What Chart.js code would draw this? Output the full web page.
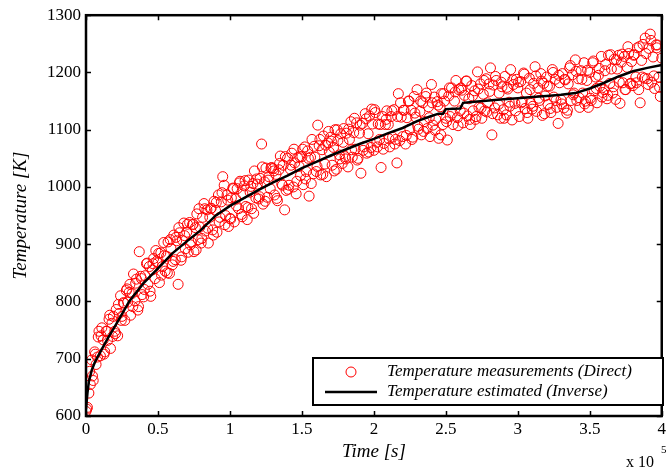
<!DOCTYPE html>
<html>
<head>
<meta charset="utf-8">
<script src="https://cdn.jsdelivr.net/npm/chart.js@4.4.0/dist/chart.umd.min.js"></script>
<style>
  html, body { margin: 0; padding: 0; background: #fff; }
</style>
</head>
<body>
<canvas id="tempChart" width="669" height="473"></canvas>
<script>
// Axis ticks (time in units of 1e5 s)
const xTicks = [0, 0.5, 1, 1.5, 2, 2.5, 3, 3.5, 4];
const yTicks = [600, 700, 800, 900, 1000, 1100, 1200, 1300];

const measTime = [
  0.00,0.01,0.02,0.03,0.04,0.05,0.06,0.07,0.08,0.09,
  0.10,0.11,0.12,0.13,0.14,0.15,0.16,0.17,0.18,0.19,
  0.20,0.21,0.22,0.23,0.24,0.25,0.26,0.27,0.28,0.29,
  0.30,0.31,0.32,0.33,0.34,0.35,0.36,0.37,0.38,0.39,
  0.40,0.41,0.42,0.43,0.44,0.45,0.46,0.47,0.48,0.49,
  0.50,0.51,0.52,0.53,0.54,0.55,0.56,0.57,0.58,0.59,
  0.60,0.61,0.62,0.63,0.64,0.65,0.66,0.67,0.68,0.69,
  0.70,0.71,0.72,0.73,0.74,0.75,0.76,0.77,0.78,0.79,
  0.80,0.81,0.82,0.83,0.84,0.85,0.86,0.87,0.88,0.89,
  0.90,0.91,0.92,0.93,0.94,0.95,0.96,0.97,0.98,0.99,
  1.00,1.01,1.02,1.03,1.04,1.05,1.06,1.07,1.08,1.09,
  1.10,1.11,1.12,1.13,1.14,1.15,1.16,1.17,1.18,1.19,
  1.20,1.21,1.22,1.23,1.24,1.25,1.26,1.27,1.28,1.29,
  1.30,1.31,1.32,1.33,1.34,1.35,1.36,1.37,1.38,1.39,
  1.40,1.41,1.42,1.43,1.44,1.45,1.46,1.47,1.48,1.49,
  1.50,1.51,1.52,1.53,1.54,1.55,1.56,1.57,1.58,1.59,
  1.60,1.61,1.62,1.63,1.64,1.65,1.66,1.67,1.68,1.69,
  1.70,1.71,1.72,1.73,1.74,1.75,1.76,1.77,1.78,1.79,
  1.80,1.81,1.82,1.83,1.84,1.85,1.86,1.87,1.88,1.89,
  1.90,1.91,1.92,1.93,1.94,1.95,1.96,1.97,1.98,1.99,
  2.00,2.01,2.02,2.03,2.04,2.05,2.06,2.07,2.08,2.09,
  2.10,2.11,2.12,2.13,2.14,2.15,2.16,2.17,2.18,2.19,
  2.20,2.21,2.22,2.23,2.24,2.25,2.26,2.27,2.28,2.29,
  2.30,2.31,2.32,2.33,2.34,2.35,2.36,2.37,2.38,2.39,
  2.40,2.41,2.42,2.43,2.44,2.45,2.46,2.47,2.48,2.49,
  2.50,2.51,2.52,2.53,2.54,2.55,2.56,2.57,2.58,2.59,
  2.60,2.61,2.62,2.63,2.64,2.65,2.66,2.67,2.68,2.69,
  2.70,2.71,2.72,2.73,2.74,2.75,2.76,2.77,2.78,2.79,
  2.80,2.81,2.82,2.83,2.84,2.85,2.86,2.87,2.88,2.89,
  2.90,2.91,2.92,2.93,2.94,2.95,2.96,2.97,2.98,2.99,
  3.00,3.01,3.02,3.03,3.04,3.05,3.06,3.07,3.08,3.09,
  3.10,3.11,3.12,3.13,3.14,3.15,3.16,3.17,3.18,3.19,
  3.20,3.21,3.22,3.23,3.24,3.25,3.26,3.27,3.28,3.29,
  3.30,3.31,3.32,3.33,3.34,3.35,3.36,3.37,3.38,3.39,
  3.40,3.41,3.42,3.43,3.44,3.45,3.46,3.47,3.48,3.49,
  3.50,3.51,3.52,3.53,3.54,3.55,3.56,3.57,3.58,3.59,
  3.60,3.61,3.62,3.63,3.64,3.65,3.66,3.67,3.68,3.69,
  3.70,3.71,3.72,3.73,3.74,3.75,3.76,3.77,3.78,3.79,
  3.80,3.81,3.82,3.83,3.84,3.85,3.86,3.87,3.88,3.89,
  3.90,3.91,3.92,3.93,3.94,3.95,3.96,3.97,3.98,3.99,
  4.00
];
const measTemp = [
  608,615,640,655,698,662,712,690,703,748,
  705,754,733,712,748,732,769,718,762,774,
  748,786,740,779,810,774,798,767,819,799,
  816,776,814,848,801,839,785,887,844,812,
  808,845,866,830,861,809,855,875,840,870,
  868,833,885,861,903,853,879,904,849,893,
  864,916,873,906,830,920,872,907,937,892,
  921,886,938,904,934,887,929,953,908,930,
  902,947,971,923,960,902,947,963,925,975,
  959,921,986,947,974,1018,1003,950,986,931,
  945,981,998,939,979,997,962,1010,952,988,
  1002,966,943,1012,991,962,1006,1028,981,1005,
  979,1015,1075,970,1009,1033,982,1018,997,1034,
  1032,986,1022,976,1030,1054,1005,1038,960,994,
  1050,1003,1031,1059,1000,1042,988,1051,1036,1020,
  1053,1004,1070,1027,1063,984,1052,1083,1023,1052,
  1027,1108,1072,1021,1065,1089,1040,1018,1077,1061,
  1087,1038,1069,1100,1031,1081,1056,1093,1041,1102,
  1053,1094,1035,1083,1114,1052,1095,1066,1112,1050,
  1094,1024,1111,1070,1128,1059,1093,1124,1069,1110,
  1064,1130,1078,1110,1083,1034,1123,1076,1109,1133,
  1109,1070,1123,1087,1135,1083,1042,1163,1081,1122,
  1088,1134,1075,1121,1150,1101,1134,1087,1158,1122,
  1170,1101,1132,1091,1147,1114,1158,1102,1140,1088,
  1179,1108,1157,1118,1149,1085,1140,1163,1109,1150,
  1120,1082,1159,1123,1173,1109,1150,1186,1121,1170,
  1133,1169,1112,1160,1185,1124,1154,1109,1177,1133,
  1168,1123,1201,1139,1180,1120,1162,1133,1189,1147,
  1180,1208,1091,1178,1138,1186,1126,1164,1120,1175,
  1135,1193,1126,1171,1148,1205,1117,1179,1146,1188,
  1173,1123,1184,1149,1199,1137,1164,1120,1190,1146,
  1136,1181,1210,1132,1173,1151,1198,1125,1181,1159,
  1192,1144,1176,1130,1205,1157,1188,1139,1111,1182,
  1152,1198,1138,1187,1129,1180,1208,1151,1196,1164,
  1222,1151,1189,1139,1203,1164,1217,1150,1186,1139,
  1200,1151,1217,1168,1192,1147,1195,1176,1228,1165,
  1170,1214,1154,1230,1181,1206,1164,1223,1153,1206,
  1230,1146,1218,1182,1228,1170,1209,1233,1180,1219,
  1177,1231,1192,1243,1170,1147,1221,1249,1190,1233,
  1189,1242,1267,1183,1227,1172,1248,1248,1192,1158,
  1225
];

// More measurements between the ones above
const measTimeB = [
  0.005,0.025,0.045,0.065,0.085,0.105,0.125,0.145,0.165,0.185,
  0.205,0.225,0.245,0.265,0.285,0.305,0.325,0.345,0.365,0.385,
  0.405,0.425,0.445,0.465,0.485,0.505,0.525,0.545,0.565,0.585,
  0.605,0.625,0.645,0.665,0.685,0.705,0.725,0.745,0.765,0.785,
  0.805,0.825,0.845,0.865,0.885,0.905,0.925,0.945,0.965,0.985,
  1.005,1.025,1.045,1.065,1.085,1.105,1.125,1.145,1.165,1.185,
  1.205,1.225,1.245,1.265,1.285,1.305,1.325,1.345,1.365,1.385,
  1.405,1.425,1.445,1.465,1.485,1.505,1.525,1.545,1.565,1.585,
  1.605,1.625,1.645,1.665,1.685,1.705,1.725,1.745,1.765,1.785,
  1.805,1.825,1.845,1.865,1.885,1.905,1.925,1.945,1.965,1.985,
  2.005,2.025,2.045,2.065,2.085,2.105,2.125,2.145,2.165,2.185,
  2.205,2.225,2.245,2.265,2.285,2.305,2.325,2.345,2.365,2.385,
  2.405,2.425,2.445,2.465,2.485,2.505,2.525,2.545,2.565,2.585,
  2.605,2.625,2.645,2.665,2.685,2.705,2.725,2.745,2.765,2.785,
  2.805,2.825,2.845,2.865,2.885,2.905,2.925,2.945,2.965,2.985,
  3.005,3.025,3.045,3.065,3.085,3.105,3.125,3.145,3.165,3.185,
  3.205,3.225,3.245,3.265,3.285,3.305,3.325,3.345,3.365,3.385,
  3.405,3.425,3.445,3.465,3.485,3.505,3.525,3.545,3.565,3.585,
  3.605,3.625,3.645,3.665,3.685,3.705,3.725,3.745,3.765,3.785,
  3.805,3.825,3.845,3.865,3.885,3.905,3.925,3.945,3.965,3.985
];
const measTempB = [
  612,678,670,708,738,740,708,748,776,739,
  744,795,767,797,822,830,791,832,791,840,
  821,867,818,866,889,884,846,880,850,908,
  870,912,929,878,915,935,899,935,890,962,
  910,962,928,962,916,973,939,990,934,977,
  944,997,967,1007,948,1011,964,1001,954,1014,
  983,1035,975,1012,1033,1028,980,1041,1003,1053,
  996,1038,1066,1010,1053,1066,1014,1050,1006,1071,
  1036,1083,1022,1073,1097,1080,1028,1100,1049,1078,
  1049,1101,1065,1120,1047,1108,1064,1119,1061,1136,
  1135,1070,1109,1066,1118,1084,1133,1075,1123,1147,
  1134,1090,1150,1083,1129,1106,1150,1097,1164,1121,
  1147,1099,1143,1091,1163,1114,1173,1129,1166,1107,
  1173,1129,1185,1118,1159,1118,1171,1138,1186,1131,
  1167,1128,1193,1144,1183,1120,1174,1141,1187,1133,
  1183,1147,1197,1130,1170,1141,1194,1155,1185,1128,
  1176,1137,1200,1151,1195,1145,1188,1134,1212,1161,
  1202,1156,1188,1145,1204,1155,1220,1172,1207,1157,
  1203,1160,1231,1175,1222,1183,1232,1170,1245,1181,
  1230,1182,1245,1192,1260,1179,1256,1194,1243,1174
];

// Estimated temperature (Inverse)
const estTime = [0, 0.01, 0.02, 0.04, 0.06, 0.08, 0.1, 0.15, 0.2, 0.3, 0.4, 0.5, 0.6, 0.7, 0.8, 0.9,
  1.0, 1.1, 1.2, 1.3, 1.4, 1.5, 1.6, 1.7, 1.8, 1.9, 2.0, 2.1, 2.2, 2.3, 2.4, 2.45, 2.48, 2.5,
  2.6, 2.62, 2.7, 2.8, 2.9, 3.0, 3.1, 3.2, 3.3, 3.4, 3.5, 3.6, 3.7, 3.8, 3.9, 4.0];
const estTemp = [612, 640, 660, 680, 693, 703, 712, 735, 756, 800, 832, 858, 884, 905, 925, 950,
  967, 981, 995, 1008, 1020, 1033, 1044, 1055, 1065, 1075, 1084, 1094, 1103, 1115, 1124, 1128, 1128, 1136,
  1137, 1147, 1149, 1151, 1153, 1155, 1157, 1159, 1161, 1164, 1172, 1182, 1193, 1202, 1208, 1213];

const SERIF = '"Liberation Serif", "Times New Roman", serif';

const framePlugin = {
    id: 'framePlugin',
    afterDraw(chart) {
        const ctx = chart.ctx;
        const a = chart.chartArea;
        const xs = chart.scales.x, ys = chart.scales.y;
        ctx.save();
        ctx.strokeStyle = '#000';
        // inward tick marks on all four sides
        ctx.lineWidth = 1.5;
        ctx.beginPath();
        xTicks.forEach(v => {
            const px = Math.round(xs.getPixelForValue(v)) + 0.5;
            ctx.moveTo(px, a.bottom); ctx.lineTo(px, a.bottom - 5);
            ctx.moveTo(px, a.top); ctx.lineTo(px, a.top + 5);
        });
        yTicks.forEach(v => {
            const py = Math.round(ys.getPixelForValue(v)) + 0.5;
            ctx.moveTo(a.left, py); ctx.lineTo(a.left + 5, py);
            ctx.moveTo(a.right, py); ctx.lineTo(a.right - 5, py);
        });
        ctx.stroke();
        // frame
        ctx.lineWidth = 2.5;
        ctx.strokeRect(a.left, a.top, a.right - a.left, a.bottom - a.top);

        // axis titles
        ctx.fillStyle = '#000';
        ctx.textAlign = 'center';
        ctx.textBaseline = 'middle';
        ctx.font = 'italic 19px ' + SERIF;
        ctx.fillText('Time [s]', (a.left + a.right) / 2, 452);
        ctx.save();
        ctx.translate(21, (a.top + a.bottom) / 2);
        ctx.rotate(-Math.PI / 2);
        ctx.fillText('Temperature [K]', 0, 0);
        ctx.restore();

        // exponent
        ctx.textAlign = 'left';
        ctx.font = '16px ' + SERIF;
        ctx.fillText('x 10', 626, 463);
        ctx.font = '11px ' + SERIF;
        ctx.fillText('5', 661, 450);

        // legend
        const ds = chart.data.datasets;
        ctx.fillStyle = '#fff';
        ctx.fillRect(313, 358, 350, 47);
        ctx.lineWidth = 2;
        ctx.strokeRect(313, 358, 350, 47);
        ctx.strokeStyle = 'red';
        ctx.lineWidth = 1;
        ctx.beginPath();
        ctx.arc(351, 372, 5, 0, Math.PI * 2);
        ctx.stroke();
        ctx.strokeStyle = '#000';
        ctx.lineWidth = 2.5;
        ctx.beginPath();
        ctx.moveTo(325, 392); ctx.lineTo(377, 392);
        ctx.stroke();
        ctx.fillStyle = '#000';
        ctx.font = 'italic 17px ' + SERIF;
        ctx.fillText(ds[1].label, 387, 372);
        ctx.fillText(ds[0].label, 387, 392);
        ctx.restore();
    }
};

const measPoints = measTime.map((t, i) => ({ x: t, y: measTemp[i] }))
    .concat(measTimeB.map((t, i) => ({ x: t, y: measTempB[i] })));

new Chart(document.getElementById('tempChart'), {
    type: 'scatter',
    data: {
        datasets: [
            {
                label: 'Temperature estimated (Inverse)',
                data: estTime.map((t, i) => ({ x: t, y: estTemp[i] })),
                showLine: true,
                borderColor: '#000',
                borderWidth: 2.5,
                pointRadius: 0,
                tension: 0,
                order: 0
            },
            {
                label: 'Temperature measurements (Direct)',
                data: measPoints,
                showLine: false,
                borderColor: '#ff0000',
                backgroundColor: 'rgba(0,0,0,0)',
                borderWidth: 1,
                pointRadius: 5,
                order: 1
            }
        ]
    },
    options: {
        responsive: false,
        animation: false,
        layout: { padding: { top: 13, right: 3, left: 0, bottom: 0 } },
        plugins: { legend: { display: false }, tooltip: { enabled: false } },
        scales: {
            x: {
                type: 'linear', min: 0, max: 4,
                afterBuildTicks: s => { s.ticks = xTicks.map(v => ({ value: v })); },
                afterFit: s => { s.height = 57; },
                grid: { display: false, drawTicks: false },
                border: { display: false },
                ticks: {
                    font: { family: SERIF, size: 17 }, color: '#000', padding: 3,
                    maxRotation: 0, autoSkip: false, callback: v => String(v)
                }
            },
            y: {
                type: 'linear', min: 600, max: 1300,
                afterBuildTicks: s => { s.ticks = yTicks.map(v => ({ value: v })); },
                afterFit: s => { s.width = 86; },
                grid: { display: false, drawTicks: false },
                border: { display: false },
                ticks: {
                    font: { family: SERIF, size: 17 }, color: '#000', padding: 5,
                    autoSkip: false, callback: v => String(v)
                }
            }
        }
    },
    plugins: [framePlugin]
});
</script>
</body>
</html>
